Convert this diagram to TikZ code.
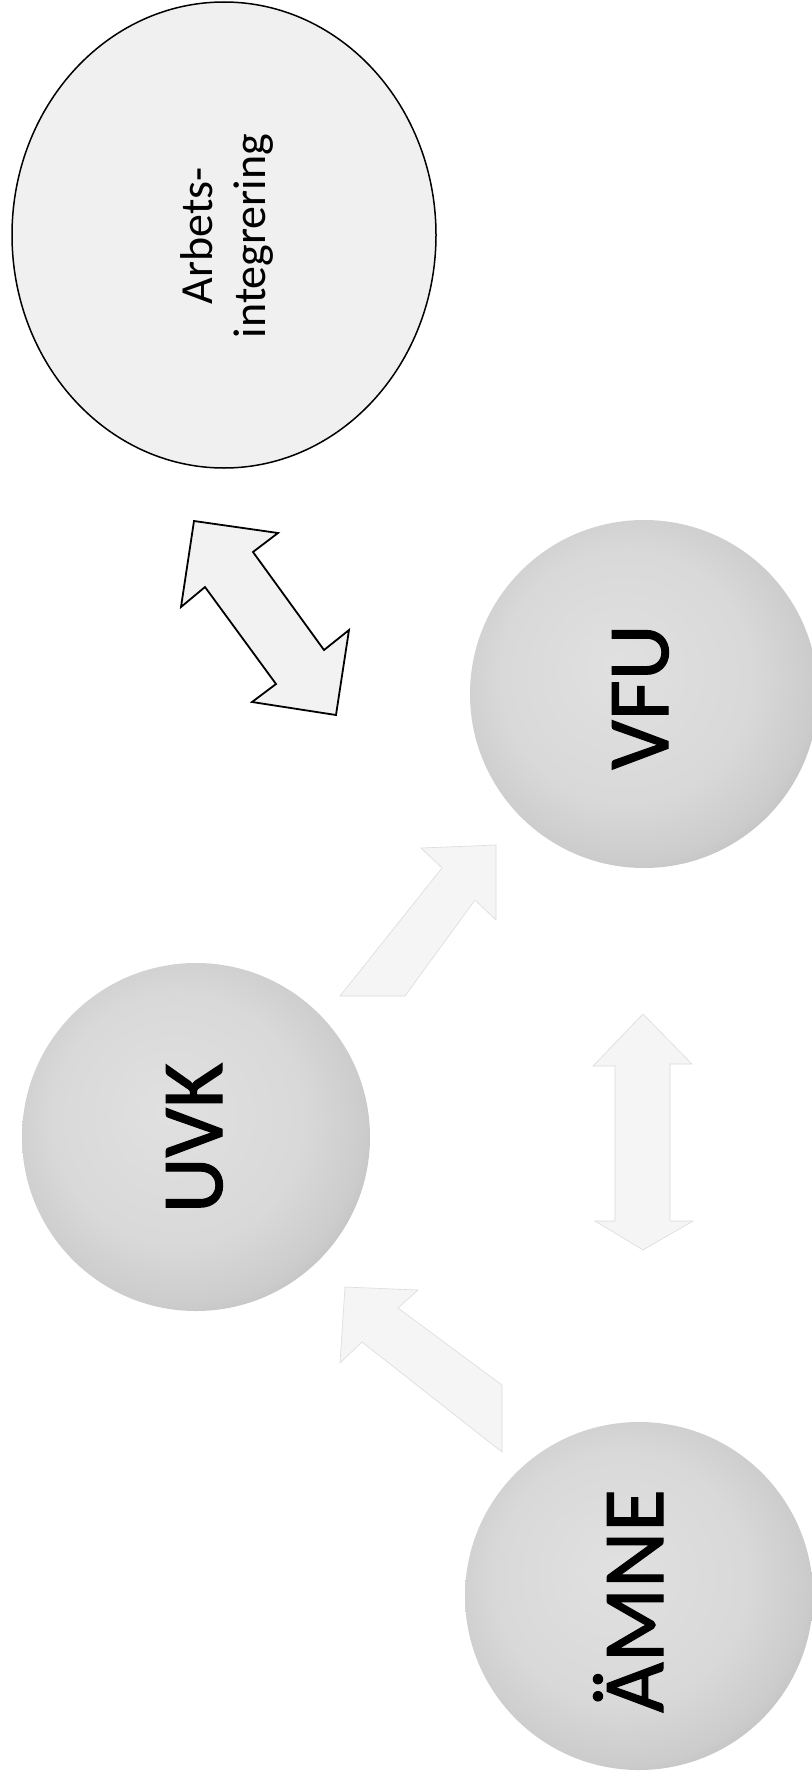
\documentclass[tikz,border=0pt]{standalone}
\usepackage{fontspec}
\setmainfont{Carlito}
\newfontfamily\bubblefont[FakeBold=1.3]{Carlito}
\usetikzlibrary{shapes.geometric}
\pgfdeclareradialshading{button}{\pgfpoint{-4bp}{4bp}}{color(0bp)=(black!12); color(18bp)=(black!15); color(26bp)=(black!20); color(30bp)=(black!26); color(50bp)=(black!26)}
\begin{document}
\begin{tikzpicture}[x=1pt,y=-1pt,
  bubble/.style={circle, minimum size=348pt, inner sep=0pt, shade, shading=button},
  bubbletext/.style={rotate=90, font=\bubblefont\fontsize{87}{87}\selectfont, text height=56pt, text depth=0pt, inner sep=0pt},
  bigarrow/.style={fill=black!5, draw=black, line width=1.8pt, line join=miter},
  faintarrow/.style={fill=black!4, draw=black!14, line width=0.6pt, line join=miter}]
\useasboundingbox (0,0) rectangle (811,1782);
% top ellipse
\node[ellipse, draw=black, line width=1.5pt, fill=black!6, minimum width=424pt, minimum height=466pt, inner sep=0pt] (ell) at (224,235) {};
\node[rotate=90, align=center, inner sep=0pt, font=\fontsize{46}{53}\selectfont] (elltext) at (227,236) {Arbets-\\integrering};
% circles
\node[bubble] (vfu) at (644,694) {};
\node[bubble] (uvk) at (196,1137) {};
\node[bubble] (amne) at (639,1596) {};
\node[bubbletext] (vfutext) at (640,697) {VFU};
\node[bubbletext] (uvktext) at (194,1138) {UVK};
\node[bubbletext] (amnetext) at (635,1601) {ÄMNE};
% bold double arrow
\draw[bigarrow] (194,521) -- (278,533) -- (253,552) -- (324,650) -- (349,630) -- (336,715) -- (252,702) -- (276,684) -- (205,587) -- (181,607) -- cycle;
% faint arrows
\draw[faintarrow] (496,845) -- (496,920) -- (475,900) -- (405,996) -- (340,996) -- (442,868) -- (421,848) -- cycle;
\draw[faintarrow] (643,1014) -- (692,1064) -- (670,1064) -- (670,1221) -- (693,1221) -- (643,1250) -- (595,1221) -- (615,1221) -- (615,1066) -- (593,1066) -- cycle;
\draw[faintarrow] (345,1287) -- (418,1290) -- (398,1308) -- (502,1385) -- (502,1452) -- (362,1342) -- (340,1363) -- cycle;
\end{tikzpicture}
\end{document}
